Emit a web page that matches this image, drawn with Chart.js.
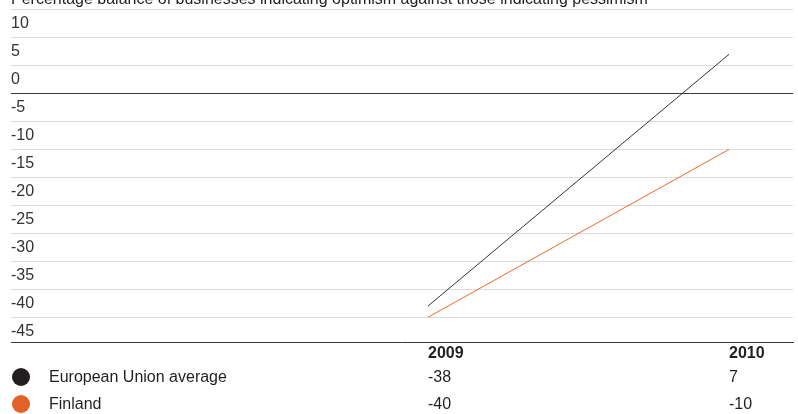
<!DOCTYPE html>
<html>
<head>
<meta charset="utf-8">
<script src="https://cdn.jsdelivr.net/npm/chart.js@4.4.1/dist/chart.umd.min.js"></script>
<style>
  html, body { margin: 0; padding: 0; background: #fff; }
  #wrap { position: relative; width: 798px; height: 414px; }
</style>
</head>
<body>
<div id="wrap"><canvas id="optimism-chart"></canvas></div>
<script>
// values
var years = [2009, 2010];
var seriesNames = ['European Union average', 'Finland'];
var euValues = [-38, 7];
var finlandValues = [-40, -10];
var yTickValues = [-45, -40, -35, -30, -25, -20, -15, -10, -5, 0, 5, 10, 15];
var chartTitle = 'Percentage balance of businesses indicating optimism against those indicating pessimism';

var dotColors = ['#231f20', '#e4622a'];
var lineColors = ['#333333', '#ec6a2c'];
var textColor = '#231f20';
var fontFamily = '"Liberation Sans", Arial, sans-serif';

var allValues = [euValues, finlandValues];

function toPoints(values) {
  return years.map(function (yr, i) {
    return { x: yr, y: values[i] };
  });
}

// title (cut off at the top) and the value table under the axis
var titleAndTable = {
  id: 'titleAndTable',
  afterDraw: function (chart) {
    var c = chart.ctx;
    var xScale = chart.scales.x;
    c.save();
    c.textAlign = 'left';
    c.textBaseline = 'alphabetic';
    c.fillStyle = textColor;
    c.font = '16px ' + fontFamily;
    c.fillText(chartTitle, 11, 3.5);

    var rowBase = [382, 408.5];
    var dotY = [377, 404];
    seriesNames.forEach(function (name, i) {
      c.fillStyle = dotColors[i];
      c.beginPath();
      c.arc(21, dotY[i], 9, 0, Math.PI * 2);
      c.fill();
      c.fillStyle = textColor;
      c.fillText(name, 49, rowBase[i]);
      allValues[i].forEach(function (v, j) {
        c.fillText(String(v), xScale.getPixelForValue(years[j]), rowBase[i]);
      });
    });
    c.restore();
  }
};

var chartEl = document.getElementById('optimism-chart');
var optimismChart = new Chart(chartEl, {
  type: 'line',
  data: {
    datasets: [
      {
        label: seriesNames[0],
        data: toPoints(euValues),
        borderColor: lineColors[0],
        borderWidth: 1,
        pointRadius: 0,
        tension: 0,
        fill: false
      },
      {
        label: seriesNames[1],
        data: toPoints(finlandValues),
        borderColor: lineColors[1],
        borderWidth: 1,
        pointRadius: 0,
        tension: 0,
        fill: false
      }
    ]
  },
  options: {
    responsive: true,
    maintainAspectRatio: false,
    animation: false,
    layout: { padding: { left: 11, right: 5, top: 9, bottom: 48.4 } },
    plugins: {
      legend: { display: false },
      tooltip: { enabled: false },
      title: { display: false }
    },
    scales: {
      x: {
        type: 'linear',
        min: 2007.6146,
        max: 2010.2126,
        afterBuildTicks: function (scale) {
          scale.ticks = years.map(function (yr) { return { value: yr }; });
        },
        grid: { display: false, drawTicks: false },
        border: { display: true, color: '#3a3a3a', width: 1 },
        ticks: {
          align: 'start',
          padding: 2,
          autoSkip: false,
          maxRotation: 0,
          color: textColor,
          font: { family: fontFamily, size: 16, weight: 'bold' },
          callback: function (v) { return String(v); }
        }
      },
      y: {
        min: -44.5,
        max: 15,
        afterBuildTicks: function (scale) {
          scale.ticks = yTickValues.map(function (v) { return { value: v }; });
        },
        grid: {
          drawTicks: false,
          lineWidth: 1,
          color: function (ctx) {
            var v = ctx.tick && ctx.tick.value;
            if (v === 0) return '#3a3a3a';
            if (v === -45) return 'rgba(0,0,0,0)';
            return '#dcdcdc';
          }
        },
        border: { display: false },
        ticks: {
          mirror: true,
          padding: 0,
          labelOffset: -14,
          autoSkip: false,
          color: '#333333',
          font: { family: fontFamily, size: 16 },
          callback: function (v) { return v === 15 ? '' : String(v); }
        }
      }
    }
  },
  plugins: [titleAndTable]
});
</script>
</body>
</html>
